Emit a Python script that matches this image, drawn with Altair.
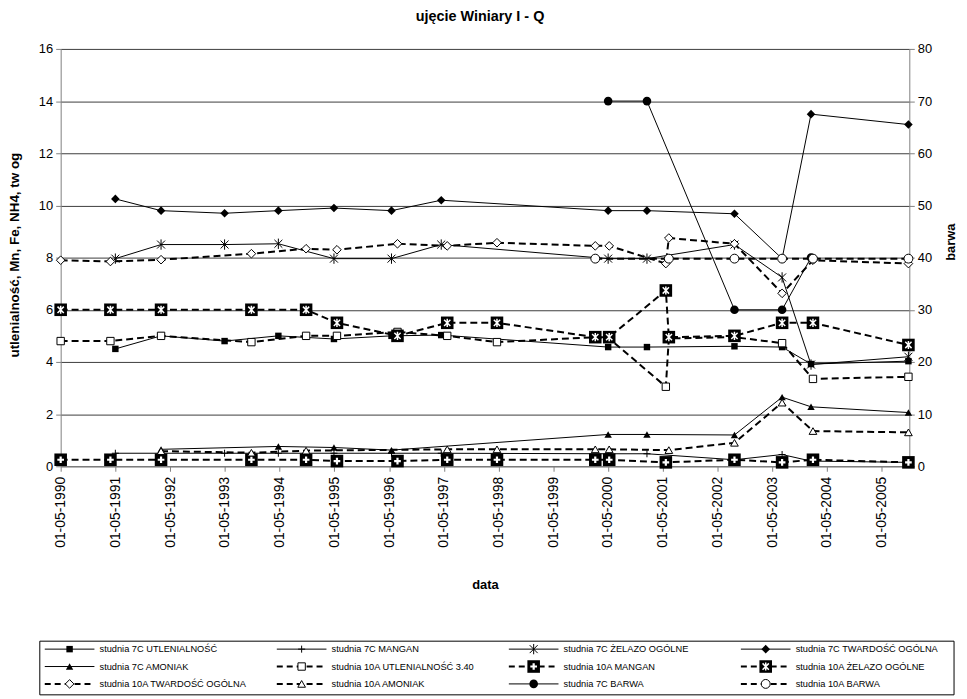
import altair as alt
import pandas as pd

FONT = "Liberation Sans"

TITLE = "ujęcie Winiary I - Q"
Y_LEFT_TITLE = "utlenialność, Mn, Fe, NH4, tw og"
Y_RIGHT_TITLE = "barwa"
X_TITLE = "data"

TICK_YEARS = [1990, 1991, 1992, 1993, 1994, 1995, 1996, 1997,
              1998, 1999, 2000, 2001, 2002, 2003, 2004, 2005]
Y_LEFT_TICKS = [0, 2, 4, 6, 8, 10, 12, 14, 16]
Y_RIGHT_TICKS = [0, 10, 20, 30, 40, 50, 60, 70, 80]

N = None

# ---- measurement dates ----
DATES_7C = ["1991-05-01", "1992-03-01", "1993-04-29", "1994-04-23", "1995-04-29",
            "1996-05-17", "1997-04-14", "2000-05-02", "2001-01-16", "2002-08-23",
            "2003-07-07", "2004-01-16", "2005-10-27"]
DATES_10A = ["1990-05-01", "1991-03-29", "1992-03-01", "1993-10-25", "1994-10-25",
             "1995-05-19", "1996-06-26", "1997-05-24", "1998-04-21", "2000-02-06",
             "2000-05-09", "2001-05-22", "2001-06-11", "2002-08-23", "2003-07-07",
             "2004-01-29", "2005-10-27"]

# ---- studnia 7C ----
UTLEN_7C = [4.5, 5.0, 4.8, 5.0, 4.88, 5.0, 5.03, 4.57, 4.57, 4.6, 4.57, 3.92, 4.03]
MANGAN_7C = [0.5, 0.5, 0.5, 0.5, 0.5, 0.5, 0.5, 0.48, 0.48, 0.25, 0.45, 0.2, 0.15]
ZELAZO_7C = [7.96, 8.5, 8.5, 8.53, 7.96, 7.96, 8.5, 7.96, 7.96, 8.5, 7.24, 3.9, 4.2]
TWARD_7C = [10.25, 9.8, 9.7, 9.8, 9.9, 9.8, 10.2, 9.8, 9.8, 9.68, 7.96, 13.5, 13.1]
AMON_7C = [N, 0.65, N, 0.76, 0.72, 0.62, N, 1.22, 1.22, 1.2, 2.65, 2.28, 2.06]
BARWA_7C = [N, N, N, N, N, N, N, 70, 70, 30, 30, 40, N]

# ---- studnia 10A ----
UTLEN_10A = [4.8, 4.8, 5.0, 4.76, 5.0, 5.0, 5.15, 5.0, 4.76, 4.95, 4.9, 3.05, 4.9,
             4.95, 4.72, 3.35, 3.43]
MANGAN_10A = [0.25, 0.25, 0.25, 0.25, 0.25, 0.2, 0.2, 0.25, 0.25, 0.25, 0.25, 0.15, N,
              0.25, 0.15, 0.25, 0.15]
ZELAZO_10A = [6.0, 6.0, 6.0, 6.0, 6.0, 5.5, 5.0, 5.5, 5.5, 4.95, 4.95, 6.74, 4.95,
              5.0, 5.5, 5.5, 4.65]
TWARD_10A = [7.9, 7.85, 7.92, 8.15, 8.34, 8.3, 8.53, 8.45, 8.57, 8.45, 8.45, 7.77, 8.75,
             8.53, 6.63, 7.9, 7.77]
AMON_10A = [N, N, 0.58, 0.52, 0.6, N, N, 0.65, 0.65, 0.65, 0.65, N, 0.62, 0.9, 2.44,
            1.35, 1.3]
BARWA_10A = [N, N, N, N, N, N, N, N, N, 39.8, N, N, 39.8, 39.8, 39.8, 39.8, 39.8]

SERIES = [
    ("studnia 7C UTLENIALNOŚĆ", DATES_7C, UTLEN_7C, "L"),
    ("studnia 7C MANGAN", DATES_7C, MANGAN_7C, "L"),
    ("studnia 7C ŻELAZO OGÓLNE", DATES_7C, ZELAZO_7C, "L"),
    ("studnia 7C TWARDOŚĆ OGÓLNA", DATES_7C, TWARD_7C, "L"),
    ("studnia 7C AMONIAK", DATES_7C, AMON_7C, "L"),
    ("studnia 10A UTLENIALNOŚĆ 3.40", DATES_10A, UTLEN_10A, "L"),
    ("studnia 10A MANGAN", DATES_10A, MANGAN_10A, "L"),
    ("studnia 10A ŻELAZO OGÓLNE", DATES_10A, ZELAZO_10A, "L"),
    ("studnia 10A TWARDOŚĆ OGÓLNA", DATES_10A, TWARD_10A, "L"),
    ("studnia 10A AMONIAK", DATES_10A, AMON_10A, "L"),
    ("studnia 7C BARWA", DATES_7C, BARWA_7C, "R"),
    ("studnia 10A BARWA", DATES_10A, BARWA_10A, "R"),
]

# legend grid (row-major, 4 columns)
LEG_COL = [0, 1, 2, 3, 0, 1, 2, 3, 0, 1, 2, 3]
LEG_ROW = [0, 0, 0, 0, 1, 1, 1, 1, 2, 2, 2, 2]

# ---- styles ----
PLUS = "M-1,0L1,0M0,-1L0,1"
AST = "M-1,-1L1,1M-1,1L1,-1M0,-1.3L0,1.3"
SOLID = None
DASH = [7, 4]

STYLE = {
    "studnia 7C UTLENIALNOŚĆ": (SOLID, 1, [dict(shape="square", size=42, fill="black")]),
    "studnia 7C MANGAN": (SOLID, 1, [dict(shape=PLUS, size=50, stroke="black", sw=1)]),
    "studnia 7C ŻELAZO OGÓLNE": (SOLID, 1, [dict(shape=AST, size=64, stroke="black", sw=1)]),
    "studnia 7C TWARDOŚĆ OGÓLNA": (SOLID, 1, [dict(shape="diamond", size=75, fill="black")]),
    "studnia 7C AMONIAK": (SOLID, 1, [dict(shape="triangle-up", size=55, fill="black")]),
    "studnia 10A UTLENIALNOŚĆ 3.40": (DASH, 2, [dict(shape="square", size=55, fill="white", stroke="black", sw=1)]),
    "studnia 10A MANGAN": (DASH, 2, [dict(shape="square", size=160, fill="black"),
                                     dict(shape=PLUS, size=45, stroke="white", sw=2.2)]),
    "studnia 10A ŻELAZO OGÓLNE": (DASH, 2, [dict(shape="square", size=160, fill="black"),
                                            dict(shape=AST, size=40, stroke="white", sw=1.5)]),
    "studnia 10A TWARDOŚĆ OGÓLNA": (DASH, 2, [dict(shape="diamond", size=75, fill="white", stroke="black", sw=1)]),
    "studnia 10A AMONIAK": (DASH, 2, [dict(shape="triangle-up", size=60, fill="white", stroke="black", sw=1)]),
    "studnia 7C BARWA": (SOLID, 1, [dict(shape="circle", size=75, fill="black")]),
    "studnia 10A BARWA": (DASH, 2, [dict(shape="circle", size=80, fill="white", stroke="black", sw=1)]),
}


def point_mark(base, spec):
    kw = dict(shape=spec["shape"], size=spec["size"], opacity=1)
    if "fill" in spec:
        kw.update(filled=True, fill=spec["fill"], fillOpacity=1)
        if "stroke" in spec:
            kw.update(stroke=spec["stroke"], strokeWidth=spec["sw"], strokeOpacity=1)
        else:
            kw.update(strokeWidth=0)
    else:
        kw.update(filled=False, color=spec["stroke"], stroke=spec["stroke"],
                  strokeWidth=spec["sw"], strokeOpacity=1)
    return base.mark_point(**kw)


def line_mark(base, dash, width):
    kw = dict(color="black", strokeWidth=width)
    if dash:
        kw["strokeDash"] = dash
    return base.mark_line(**kw)


def dt(y, m, d):
    return alt.DateTime(year=y, month=m, date=d, utc=True)


X_SCALE = alt.Scale(type="utc", domain=[dt(1990, 5, 1), dt(2005, 11, 2)], nice=False)

x_axis = alt.Axis(
    values=[dt(y, 5, 1) for y in TICK_YEARS],
    labelExpr="utcFormat(datum.value, '%d-%m-%Y')",
    labelAngle=270, labelFontSize=14, labelPadding=5, labelColor="black",
    tickSize=5, tickColor="#808080", domainColor="#808080", grid=False,
    title=X_TITLE, titleFontSize=13, titleFontWeight="bold", titleColor="black",
    titleX=427, titleY=119, titleBaseline="middle", titleAlign="center",
)
x_main = alt.X("date:T", scale=X_SCALE, axis=x_axis)
x_right = alt.X("date:T", scale=X_SCALE, axis=None)

y_left = alt.Y(
    "value:Q",
    scale=alt.Scale(domain=[0, 16], nice=False),
    axis=alt.Axis(
        values=Y_LEFT_TICKS, grid=True, gridColor="#3c3c3c", gridWidth=1,
        domainColor="#808080", tickColor="#808080", tickSize=5,
        labelFontSize=13, labelPadding=3, labelColor="black",
        title=Y_LEFT_TITLE, titleFontSize=13.5, titleFontWeight="bold", titleColor="black",
        titleAngle=270, titleX=-46, titleY=207, titleBaseline="middle", titleAlign="center",
    ),
)
y_right = alt.Y(
    "value:Q",
    scale=alt.Scale(domain=[0, 80], nice=False),
    axis=alt.Axis(
        orient="right", values=Y_RIGHT_TICKS, grid=False,
        domainColor="#808080", tickColor="#808080", tickSize=5,
        labelFontSize=13, labelPadding=3, labelColor="black",
        title=Y_RIGHT_TITLE, titleFontSize=13, titleFontWeight="bold", titleColor="black",
        titleAngle=270, titleX=41, titleY=194, titleBaseline="middle", titleAlign="center",
    ),
)

left_layers, right_layers = [], []
for name, dates, vals, side in SERIES:
    df = pd.DataFrame([{"date": d, "value": v} for d, v in zip(dates, vals) if v is not None])
    base = alt.Chart(df)
    dash, width, specs = STYLE[name]
    xe, ye = (x_main, y_left) if side == "L" else (x_right, y_right)
    layers = [line_mark(base, dash, width).encode(x=xe, y=ye)]
    for s in specs:
        layers.append(point_mark(base, s).encode(x=xe, y=ye))
    (left_layers if side == "L" else right_layers).extend(layers)

# ---- legend ----
leg_df = pd.DataFrame({"name": [s[0] for s in SERIES], "col": LEG_COL, "row": LEG_ROW})
leg_base = alt.Chart(leg_df).transform_calculate(
    lx0="datum.col", lx1="datum.col + 0.214", lm="datum.col + 0.107", lt="datum.col + 0.236"
)
LX = alt.Scale(domain=[0, 4], range=[-16, 918])
LY = alt.Scale(domain=[0, 2], range=[604, 639])

legend_layers = [
    alt.Chart(alt.Data(values=[{"k": 1}])).mark_rect(
        fill="white", stroke="black", strokeWidth=1
    ).encode(x=alt.value(-21), x2=alt.value(899), y=alt.value(596), y2=alt.value(650))
]
for name, _, _, _ in SERIES:
    dash, width, specs = STYLE[name]
    b = leg_base.transform_filter(alt.datum.name == name)
    rule_kw = dict(color="black", strokeWidth=width)
    if dash:
        rule_kw["strokeDash"] = [6, 4]
    legend_layers.append(
        b.mark_rule(**rule_kw).encode(
            x=alt.X("lx0:Q", scale=LX, axis=None), x2="lx1:Q",
            y=alt.Y("row:Q", scale=LY, axis=None))
    )
    for s in specs:
        legend_layers.append(
            point_mark(b, s).encode(x=alt.X("lm:Q", scale=LX, axis=None),
                                    y=alt.Y("row:Q", scale=LY, axis=None))
        )
    legend_layers.append(
        b.mark_text(align="left", baseline="middle", fontSize=9.3, font=FONT, color="black").encode(
            x=alt.X("lt:Q", scale=LX, axis=None), y=alt.Y("row:Q", scale=LY, axis=None),
            text="name:N")
    )

left_group = alt.layer(*left_layers)
right_group = alt.layer(*right_layers)
legend_group = alt.layer(*legend_layers)

chart = alt.layer(left_group, right_group, legend_group).resolve_scale(
    x="independent", y="independent"
).properties(
    width=854, height=420,
    autosize=alt.AutoSizeParams(type="none"),
    padding={"left": 53, "top": 39, "right": 50, "bottom": 230},
    title=alt.TitleParams(TITLE, fontSize=14.5, fontWeight="bold", font=FONT, color="black",
                          anchor="middle", frame="group", offset=19, dx=-5),
).configure(font=FONT).configure_view(stroke=None).configure_axis(
    labelFont=FONT, titleFont=FONT
)

chart.save("out.html", embed_options={"renderer": "svg", "actions": False})
